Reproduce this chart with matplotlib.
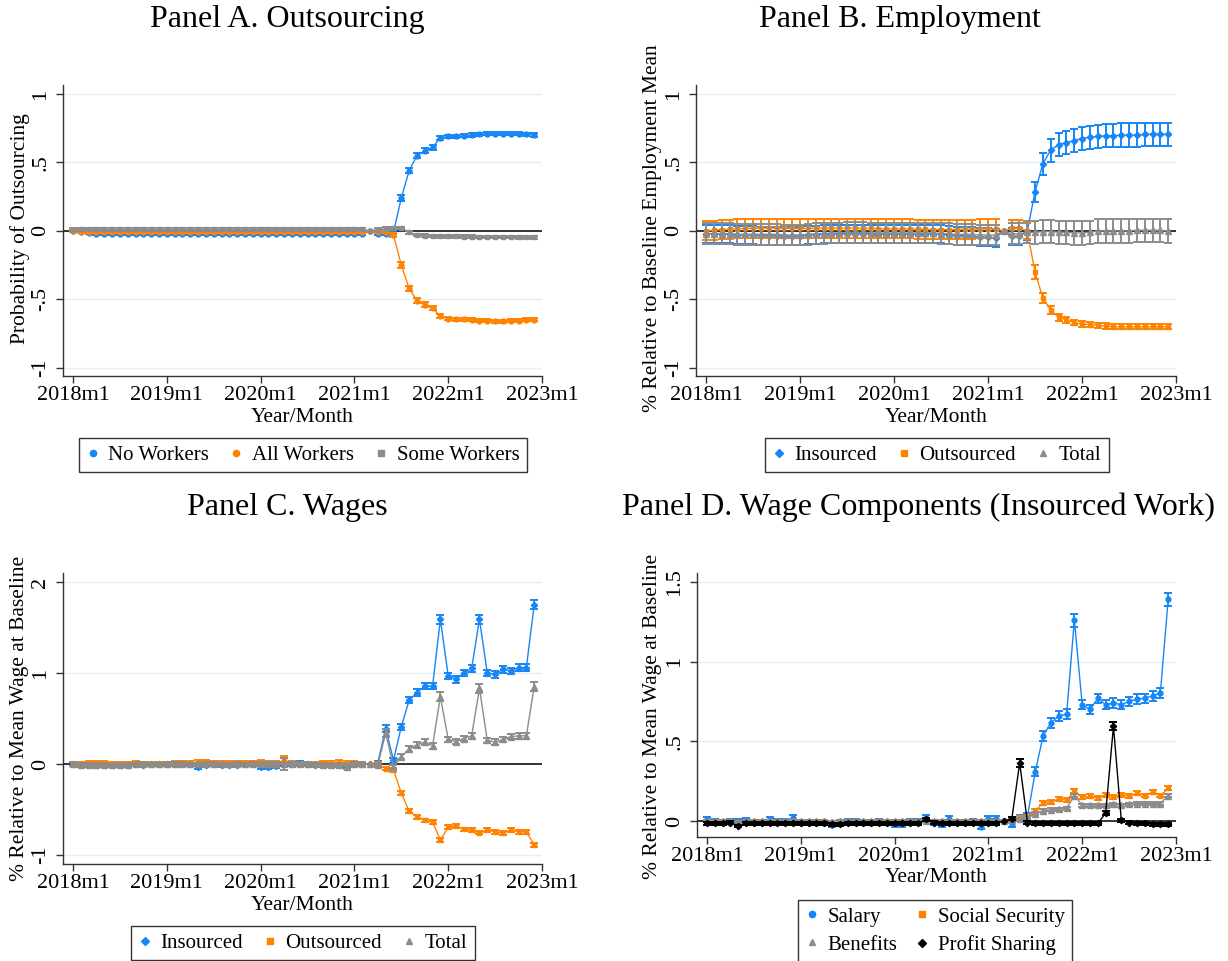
import numpy as np
import matplotlib
matplotlib.use("Agg")
import matplotlib.pyplot as plt
from matplotlib.lines import Line2D

plt.rcParams["font.family"]=["Liberation Serif","DejaVu Serif"]

W,H=1228,961

BLUE="#1786f7"
ORANGE="#ff8300"
GRAY="#8c8c8c"
BLACK="#000000"

months=np.arange(60)	# 2018m1 .. 2022m12, 2021m3 is the omitted month
xtick_pos=[0,12,24,36,48,60]
xtick_lab=["2018m1","2019m1","2020m1","2021m1","2022m1","2023m1"]

# Panel A. Outsourcing
a_labels=["No Workers","All Workers","Some Workers"]
a_no=[0.00,-0.01,-0.015,-0.02,-0.02,-0.025,-0.025,-0.025,-0.025,-0.025,-0.025,-0.025,
	-0.025,-0.025,-0.025,-0.025,-0.025,-0.025,-0.025,-0.025,-0.025,-0.025,-0.022,-0.022,
	-0.02,-0.02,-0.02,-0.02,-0.02,-0.02,-0.02,-0.02,-0.022,-0.022,-0.022,-0.022,
	-0.022,-0.022,0.0,-0.02,-0.02,-0.01,0.24,0.44,0.55,0.585,0.61,0.68,
	0.69,0.69,0.695,0.70,0.705,0.71,0.71,0.71,0.71,0.71,0.705,0.70]
a_no_ci=[0.008]*36+[0.008,0.008,0,0.008,0.008,0.01,0.02,0.02,0.02,0.018,0.018,0.015]+[0.012]*12
a_all=[0.0,-0.005,-0.005,-0.005,-0.005,-0.005,-0.005,-0.005,-0.005,-0.005,-0.005,-0.005,
	-0.005,-0.005,-0.005,-0.005,-0.005,-0.005,-0.005,-0.005,-0.005,-0.005,-0.005,-0.005,
	-0.008,-0.008,-0.008,-0.008,-0.008,-0.008,-0.008,-0.008,-0.008,-0.008,-0.008,-0.008,
	-0.01,-0.01,0.0,-0.005,-0.005,-0.03,-0.25,-0.42,-0.51,-0.54,-0.565,-0.62,
	-0.64,-0.645,-0.645,-0.65,-0.655,-0.655,-0.66,-0.66,-0.655,-0.655,-0.65,-0.65]
a_all_ci=[0.007]*36+[0.007,0.007,0,0.007,0.007,0.012,0.02,0.02,0.018,0.018,0.016,0.014]+[0.011]*12
a_some=[0.01,0.012,0.012,0.012,0.013,0.013,0.013,0.013,0.013,0.013,0.013,0.013,
	0.013,0.013,0.013,0.013,0.013,0.013,0.013,0.013,0.013,0.013,0.013,0.013,
	0.012,0.012,0.012,0.012,0.012,0.012,0.012,0.012,0.012,0.012,0.012,0.012,
	0.012,0.012,0.0,0.01,0.015,0.02,0.022,-0.01,-0.03,-0.035,-0.038,-0.04,
	-0.04,-0.04,-0.042,-0.042,-0.044,-0.045,-0.045,-0.046,-0.046,-0.048,-0.048,-0.048]
a_some_ci=[0.01]*36+[0.01,0.01,0,0.01,0.01,0.01,0.01,0.009,0.009,0.009,0.009,0.009]+[0.009]*12

# Panel B. Employment
b_labels=["Insourced","Outsourced","Total"]
b_ins=[-0.02,-0.02,-0.025,-0.025,-0.03,-0.03,-0.03,-0.035,-0.035,-0.035,-0.04,-0.04,
	-0.035,-0.03,-0.03,-0.025,-0.025,-0.02,-0.02,-0.02,-0.02,-0.02,-0.025,-0.025,
	-0.025,-0.025,-0.025,-0.025,-0.02,-0.02,-0.025,-0.03,-0.035,-0.035,-0.04,-0.045,
	-0.045,-0.05,0.0,-0.04,-0.04,-0.005,0.285,0.49,0.59,0.63,0.645,0.66,
	0.675,0.685,0.69,0.695,0.695,0.70,0.70,0.70,0.705,0.705,0.705,0.705]
b_ins_ci=[0.065]*36+[0.065,0.065,0,0.06,0.06,0.06,0.075,0.08,0.085,0.085,0.085,0.085]+[0.085]*12
b_out=[0.0,0.005,0.01,0.012,0.015,0.018,0.02,0.02,0.02,0.02,0.02,0.018,
	0.018,0.018,0.02,0.02,0.02,0.02,0.02,0.02,0.018,0.018,0.015,0.015,
	0.015,0.015,0.015,0.012,0.012,0.01,0.01,0.01,0.01,0.012,0.012,0.015,
	0.015,0.015,0.0,0.02,0.02,0.0,-0.30,-0.49,-0.58,-0.63,-0.65,-0.67,
	-0.68,-0.685,-0.69,-0.695,-0.70,-0.70,-0.70,-0.70,-0.70,-0.70,-0.70,-0.70]
b_out_ci=[0.07]*36+[0.07,0.07,0,0.06,0.06,0.06,0.05,0.04,0.03,0.025,0.022,0.02]+[0.02]*12
b_tot=[-0.02,-0.02,-0.02,-0.02,-0.025,-0.025,-0.025,-0.025,-0.025,-0.025,-0.03,-0.03,
	-0.03,-0.025,-0.02,-0.02,-0.015,-0.015,-0.01,-0.01,-0.01,-0.015,-0.015,-0.015,
	-0.015,-0.015,-0.015,-0.015,-0.015,-0.015,-0.02,-0.02,-0.025,-0.025,-0.025,-0.03,
	-0.03,-0.03,0.0,-0.02,-0.02,-0.01,-0.01,-0.005,-0.005,-0.01,-0.01,-0.015,
	-0.015,-0.01,0.0,0.0,0.0,0.0,0.0,0.005,0.005,0.005,0.005,0.0]
b_tot_ci=[0.075]*36+[0.075,0.075,0,0.075,0.075,0.08,0.085,0.085,0.085,0.085,0.085,0.085]+[0.085]*12

# Panel C. Wages
c_labels=["Insourced","Outsourced","Total"]
c_ins=[0.0,-0.01,-0.01,-0.01,-0.01,-0.01,-0.01,-0.01,0.0,-0.01,0.0,0.0,
	0.0,0.005,0.0,0.0,-0.03,-0.01,-0.005,-0.01,-0.01,-0.01,-0.005,0.0,
	-0.03,-0.03,-0.02,-0.005,0.0,0.01,0.0,-0.01,-0.01,-0.01,-0.01,-0.01,
	-0.005,0.0,0.0,0.015,0.39,0.04,0.41,0.70,0.785,0.855,0.855,1.59,
	0.97,0.93,1.00,1.05,1.59,1.00,0.985,1.04,1.025,1.06,1.06,1.75]
c_ins_ci=[0.02]*16+[0.03]+[0.02]*19+[0.02,0.02,0,0.02,0.04,0.03,0.035,0.035,0.035,0.035,0.035,0.05]+\
	[0.035,0.035,0.035,0.035,0.05,0.035,0.035,0.035,0.035,0.035,0.035,0.05]
c_out=[0.0,0.0,0.01,0.01,0.01,0.0,0.0,0.005,0.01,0.0,0.0,0.0,
	0.0,0.01,0.01,0.01,0.02,0.025,0.01,0.01,0.01,0.01,0.01,0.015,
	0.02,0.015,0.01,0.04,0.01,0.0,0.0,0.005,0.01,0.015,0.02,0.01,
	0.01,0.0,0.0,0.0,-0.05,-0.065,-0.32,-0.52,-0.58,-0.62,-0.64,-0.835,
	-0.695,-0.68,-0.72,-0.725,-0.755,-0.725,-0.745,-0.76,-0.725,-0.745,-0.745,-0.89]
c_out_ci=[0.02]*27+[0.045]+[0.02]*8+[0.02,0.02,0,0.02,0.02,0.02,0.022,0.022,0.02,0.02,0.02,0.022]+[0.02]*12
c_tot=[0.0,-0.01,-0.01,-0.01,-0.01,-0.015,-0.01,-0.01,-0.005,0.0,-0.005,-0.005,
	0.0,0.0,0.0,-0.005,-0.005,0.0,0.0,-0.005,-0.005,0.0,-0.005,0.0,
	0.0,0.0,0.0,0.0,0.005,0.0,0.0,-0.005,-0.01,-0.015,-0.01,-0.03,
	0.0,0.0,0.0,-0.01,0.34,-0.03,0.08,0.165,0.21,0.24,0.20,0.74,
	0.27,0.245,0.28,0.31,0.83,0.26,0.24,0.27,0.30,0.31,0.31,0.85]
c_tot_ci=[0.02]*27+[0.07]+[0.02]*7+[0.03]+[0.02,0.02,0,0.02,0.04,0.02,0.03,0.03,0.03,0.03,0.03,0.05]+\
	[0.03,0.03,0.03,0.03,0.05,0.03,0.03,0.03,0.03,0.03,0.03,0.05]

# Panel D. Wage Components (Insourced Work)
d_labels=["Salary","Social Security","Benefits","Profit Sharing"]
d_sal=[0.01,0.0,-0.01,-0.005,0.0,0.005,-0.01,-0.01,0.01,0.0,0.0,0.02,
	-0.01,-0.01,-0.01,-0.01,-0.025,-0.01,0.0,0.0,-0.01,-0.01,-0.005,-0.01,
	-0.02,-0.02,0.0,0.0,0.02,-0.01,-0.02,0.015,-0.01,-0.01,0.0,-0.035,
	0.015,0.015,0.0,-0.02,0.02,0.03,0.31,0.535,0.615,0.66,0.67,1.26,
	0.73,0.70,0.77,0.73,0.74,0.73,0.75,0.765,0.77,0.785,0.805,1.39]
d_sal_ci=[0.015]*36+[0.015,0.015,0,0.015,0.02,0.02,0.03,0.03,0.03,0.03,0.03,0.04]+\
	[0.03,0.03,0.03,0.03,0.03,0.03,0.03,0.03,0.03,0.03,0.03,0.04]
d_soc=[0.0,0.0,0.0,0.0,-0.005,0.0,0.0,0.0,0.0,0.0,0.0,0.0,
	0.0,0.0,0.0,0.0,-0.005,0.0,0.0,0.0,0.0,0.0,0.0,0.0,
	0.0,0.0,0.0,0.0,0.005,0.0,0.0,0.0,0.0,0.0,0.0,0.0,
	0.0,0.0,0.0,0.01,0.02,0.03,0.065,0.115,0.12,0.14,0.13,0.19,
	0.15,0.155,0.145,0.165,0.15,0.165,0.155,0.175,0.16,0.18,0.16,0.205]
d_soc_ci=[0.008]*36+[0.008,0.008,0,0.008,0.01,0.01,0.012,0.012,0.012,0.012,0.012,0.014]+[0.012]*12
d_ben=[0.0,0.0,0.0,0.0,-0.005,0.0,0.0,0.0,0.0,0.0,0.0,0.0,
	0.0,0.0,0.0,0.0,-0.005,0.0,0.0,0.0,0.0,0.0,0.0,0.0,
	0.0,0.0,0.0,0.0,0.0,0.0,0.0,0.0,0.0,0.0,0.0,0.0,
	0.0,0.0,0.0,0.005,0.01,0.02,0.045,0.065,0.07,0.075,0.08,0.16,
	0.10,0.10,0.10,0.10,0.105,0.10,0.105,0.11,0.11,0.11,0.11,0.16]
d_ben_ci=[0.008]*36+[0.008,0.008,0,0.008,0.008,0.01,0.01,0.01,0.01,0.01,0.01,0.012]+[0.01]*12
d_prof=[-0.015,-0.015,-0.015,-0.01,-0.03,-0.015,-0.015,-0.015,-0.015,-0.015,-0.015,-0.015,
	-0.015,-0.015,-0.015,-0.015,-0.02,-0.02,-0.015,-0.015,-0.015,-0.015,-0.015,-0.015,
	-0.015,-0.015,-0.015,-0.015,0.01,-0.01,-0.015,-0.015,-0.015,-0.015,-0.015,-0.015,
	-0.015,-0.015,0.0,0.015,0.365,-0.01,-0.015,-0.015,-0.015,-0.015,-0.015,-0.015,
	-0.015,-0.015,-0.015,0.05,0.595,0.005,-0.01,-0.015,-0.015,-0.02,-0.02,-0.02]
d_prof_ci=[0.008]*36+[0.008,0.008,0,0.01,0.025,0.008,0.008,0.008,0.008,0.008,0.008,0.008]+\
	[0.008,0.008,0.008,0.015,0.025,0.008,0.008,0.008,0.008,0.008,0.008,0.008]

TICK_FS=16
LAB_FS=15.5
LEG_FS=15
TITLE_FS=23


def px_ax(fig,left,top,right,bottom):
	return fig.add_axes([left/W,1-bottom/H,(right-left)/W,(bottom-top)/H])


def series(ax,y,ci,color,marker,ms,z):
	y=np.array(y)
	ci=np.array(ci)
	m=ci>0
	ax.errorbar(months[m],y[m],yerr=ci[m],fmt="none",ecolor=color,elinewidth=1.4,
		capsize=3.2,capthick=1.4,zorder=z)
	ax.plot(months,y,color=color,lw=1.0,marker=marker,ms=ms,mec=color,mfc=color,zorder=z+0.5)


def style(ax,ylim,yticks,ylabs):
	ax.set_xlim(-1.28,60)
	ax.set_ylim(*ylim)
	ax.set_xticks(xtick_pos)
	ax.set_xticklabels(xtick_lab,fontsize=TICK_FS)
	ax.set_yticks(yticks)
	ax.set_yticklabels(ylabs,fontsize=TICK_FS,rotation=90,va="center")
	ax.grid(axis="y",color="#e5eef0",lw=1.0,zorder=0)
	ax.set_axisbelow(True)
	ax.axhline(0,color="black",lw=1.1,zorder=1)
	for s in ["top","right"]:
		ax.spines[s].set_visible(False)
	for s in ["left","bottom"]:
		ax.spines[s].set_color("#333333")
		ax.spines[s].set_linewidth(1.0)
	ax.tick_params(length=5,width=1.0,color="#333333",pad=2)
	ax.tick_params(axis="y",pad=4)


def text(fig,x,y,s,fs,rot=0):
	fig.text(x/W,1-y/H,s,ha="center",va="center",fontsize=fs,rotation=rot)


def legend(fig,handles,labels,cx,cy,ncol,colsp=1.0,lsp=0.3):
	leg=fig.legend(handles,labels,loc="center",bbox_to_anchor=(cx/W,1-cy/H),ncol=ncol,
		frameon=True,fancybox=False,edgecolor="black",fontsize=LEG_FS,handlelength=0.6,
		handletextpad=0.45,columnspacing=colsp,borderpad=0.35,labelspacing=lsp)
	leg.get_frame().set_linewidth(1.0)


def key(color,marker,ms=4.5):
	return Line2D([],[],ls="none",marker=marker,ms=ms,color=color)


def main():
	fig=plt.figure(figsize=(W/100,H/100),dpi=100)

	# Panel A
	ax=px_ax(fig,63,85,542,376)
	series(ax,a_no,a_no_ci,BLUE,"o",3.5,3)
	series(ax,a_all,a_all_ci,ORANGE,"o",3.5,4)
	series(ax,a_some,a_some_ci,GRAY,"s",3.5,5)
	style(ax,(-1.06,1.066),[-1,-0.5,0,0.5,1],["-1","-.5","0",".5","1"])
	text(fig,287,20,"Panel A. Outsourcing",TITLE_FS)
	text(fig,20,229,"Probability of Outsourcing",LAB_FS,90)
	text(fig,302,417,"Year/Month",LAB_FS)
	legend(fig,[key(BLUE,"o"),key(ORANGE,"o"),key(GRAY,"s")],a_labels,303,455,3)

	# Panel B
	ax=px_ax(fig,696,85,1176,376)
	series(ax,b_ins,b_ins_ci,BLUE,"D",3.2,3)
	series(ax,b_out,b_out_ci,ORANGE,"s",3.5,4)
	series(ax,b_tot,b_tot_ci,GRAY,"^",3.8,5)
	style(ax,(-1.06,1.066),[-1,-0.5,0,0.5,1],["-1","-.5","0",".5","1"])
	text(fig,900,20,"Panel B. Employment",TITLE_FS)
	text(fig,652,228,"% Relative to Baseline Employment Mean",LAB_FS,90)
	text(fig,936,417,"Year/Month",LAB_FS)
	legend(fig,[key(BLUE,"D",4),key(ORANGE,"s"),key(GRAY,"^")],b_labels,937,455,3)

	# Panel C
	ax=px_ax(fig,63,573,542,864)
	series(ax,c_ins,c_ins_ci,BLUE,"D",3.2,3)
	series(ax,c_out,c_out_ci,ORANGE,"s",3.5,4)
	series(ax,c_tot,c_tot_ci,GRAY,"^",3.8,5)
	style(ax,(-1.10,2.10),[-1,0,1,2],["-1","0","1","2"])
	text(fig,287,507,"Panel C. Wages",TITLE_FS)
	text(fig,20,718,"% Relative to Mean Wage at Baseline",LAB_FS,90)
	text(fig,302,905,"Year/Month",LAB_FS)
	legend(fig,[key(BLUE,"D",4),key(ORANGE,"s"),key(GRAY,"^")],c_labels,303,943,3)

	# Panel D
	ax=px_ax(fig,697,573,1176,837)
	series(ax,d_sal,d_sal_ci,BLUE,"o",3.5,3)
	series(ax,d_soc,d_soc_ci,ORANGE,"s",3.5,4)
	series(ax,d_ben,d_ben_ci,GRAY,"^",3.8,5)
	series(ax,d_prof,d_prof_ci,BLACK,"D",3.2,6)
	style(ax,(-0.10,1.556),[0,0.5,1,1.5],["0",".5","1","1.5"])
	text(fig,919,507,"Panel D. Wage Components (Insourced Work)",TITLE_FS)
	text(fig,652,716,"% Relative to Mean Wage at Baseline",LAB_FS,90)
	text(fig,936,877,"Year/Month",LAB_FS)
	# legend is filled row by row in the picture: Salary, Social Security / Benefits, Profit Sharing
	legend(fig,[key(BLUE,"o"),key(GRAY,"^"),key(ORANGE,"s"),key(BLACK,"D",4)],
		[d_labels[0],d_labels[2],d_labels[1],d_labels[3]],935,931,2,colsp=0.9,lsp=0.4)

	fig.savefig("out.png",dpi=100)


main()
